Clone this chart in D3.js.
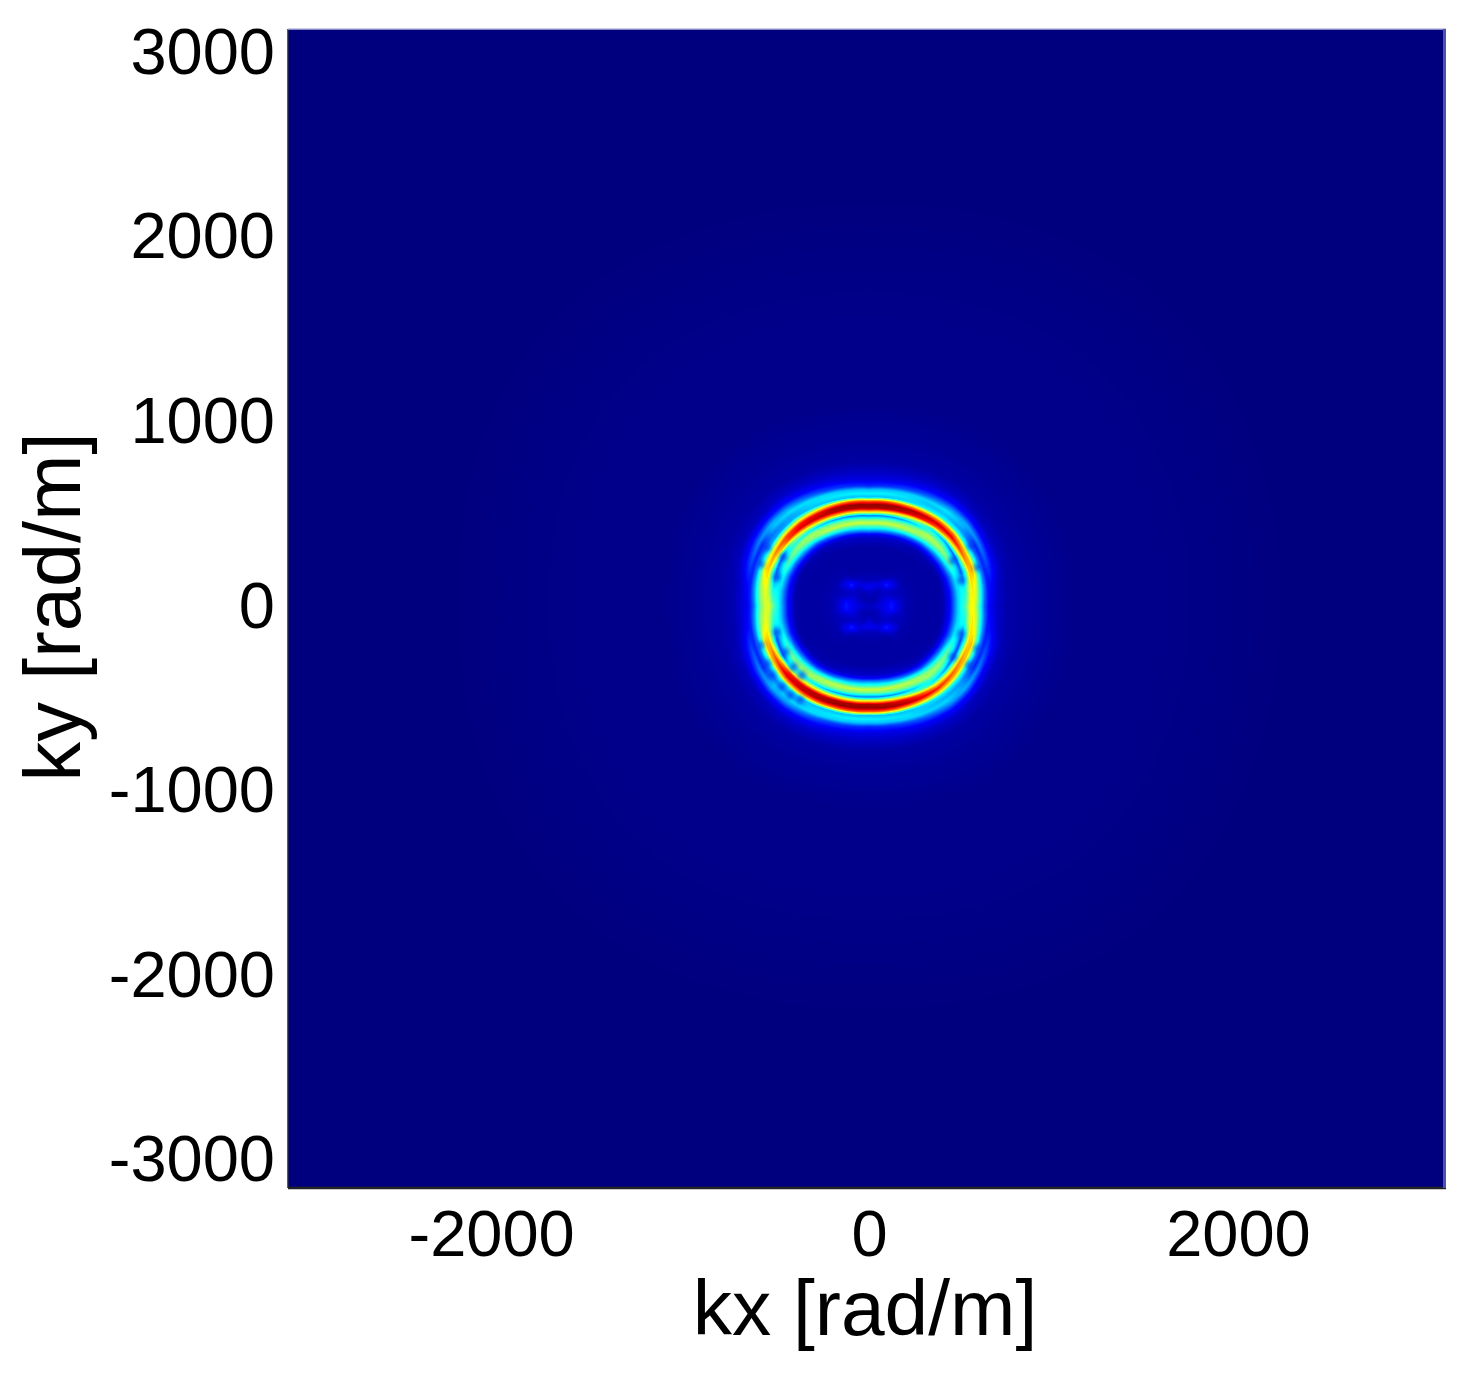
<!DOCTYPE html>
<html>
<head>
<meta charset="utf-8">
<script src="https://d3js.org/d3.v7.min.js"></script>
<style>
  body { margin: 0; background: #fff; }
  #wrap { position: relative; width: 1469px; height: 1373px; }
  canvas, svg { position: absolute; left: 0; top: 0; }
  text { font-family: "Liberation Sans", Arial, sans-serif; fill: #000; }
</style>
</head>
<body>
<div id="wrap"></div>
<script>
// Tick labels
const xTicks = [-2000, 0, 2000];
const yTicks = [-3000, -2000, -1000, 0, 1000, 2000, 3000];

// Intensity, in percent, along rays from the centre.
// One row per angle (degrees, counter-clockwise from +kx), one column per radius.
// The radii are relative to a bright ring of radius ringBase.
const radii = [0, 40, 80, 100, 120, 140, 170, 200, 260, 320, 370, 390, 410, 430, 450, 470, 490, 510, 530, 550, 570, 590, 610, 630, 650, 680, 720, 780];
const angles = d3.range(0, 360, 10);
const levels = [
  [6,7,9,11,13,10,6,4,3,3, 3,4,8,12,22,32,38,44,60,64,52,36,20,12,9,6,4,3],
  [6,7,9,10,12,9,6,4,3,3, 3,4,8,12,22,32,36,38,54,66,58,40,24,13,11,7,4,3],
  [6,6,8,9,8,6,5,4,3,3, 3,4,8,14,24,36,32,20,38,68,72,48,26,14,18,10,5,3],
  [6,5,7,7,6,5,5,4,3,3, 3,5,10,20,36,48,36,20,55,80,68,38,20,14,24,10,5,3],
  [6,5,6,6,6,8,9,4,3,3, 4,7,14,28,44,54,44,26,66,90,74,38,26,28,28,12,5,3],
  [6,4,5,6,9,14,8,4,3,3, 4,8,16,34,50,56,44,34,78,93,72,36,30,34,26,12,6,3],
  [6,4,5,6,8,10,4,3,3,3, 5,9,20,40,55,50,32,52,88,95,70,34,30,32,22,11,6,3],
  [6,4,5,7,9,6,4,3,3,3, 6,10,24,42,57,48,26,60,93,97,72,32,33,32,19,10,6,3],
  [6,4,6,9,9,5,4,3,3,3, 6,11,27,42,58,46,24,64,96,98,76,30,35,30,16,9,6,3],
  [6,4,7,10,8,5,4,3,3,3, 6,11,28,42,58,46,23,65,96,98,78,30,35,30,15,9,6,3],
  [6,4,6,9,9,5,4,3,3,3, 6,11,27,42,58,46,24,66,96,98,76,30,35,30,16,9,6,3],
  [6,4,5,7,9,6,4,3,3,3, 6,10,24,42,57,48,26,68,95,96,70,30,34,32,18,10,6,3],
  [6,4,5,6,8,10,4,3,3,3, 5,9,20,40,56,50,30,68,94,90,62,30,32,33,22,11,6,3],
  [6,4,5,6,9,14,8,4,3,3, 4,8,16,34,50,54,36,64,92,86,56,28,28,33,26,12,6,3],
  [6,5,6,6,6,8,9,4,3,3, 4,7,14,28,44,52,40,50,82,82,54,26,24,30,28,12,5,3],
  [6,5,7,7,6,5,5,4,3,3, 3,5,10,20,36,46,36,20,62,76,58,30,20,14,24,12,5,3],
  [6,6,8,9,8,6,5,4,3,3, 3,4,8,14,26,38,30,20,44,68,66,42,24,14,18,10,5,3],
  [6,7,9,10,12,9,6,4,3,3, 3,4,8,12,22,32,36,36,52,62,56,42,26,14,11,7,4,3],
  [6,7,9,11,13,10,6,4,3,3, 3,4,8,12,22,32,40,48,60,58,50,38,22,13,9,7,4,3],
  [6,7,9,10,12,9,6,4,3,3, 3,4,8,12,22,32,36,38,54,62,56,42,26,14,11,7,4,3],
  [6,6,8,9,8,6,5,4,3,3, 3,4,8,14,26,38,30,18,44,70,70,44,24,14,18,10,5,3],
  [6,5,7,7,6,5,5,4,3,3, 3,5,10,20,36,46,34,18,62,82,68,36,20,14,24,12,5,3],
  [6,5,6,6,6,8,9,4,3,3, 4,7,14,28,44,52,40,44,84,92,70,34,24,30,28,12,5,3],
  [6,4,5,6,9,14,8,4,3,3, 4,8,16,34,50,54,36,60,92,94,70,32,28,33,26,12,6,3],
  [6,4,5,6,8,10,4,3,3,3, 5,9,20,40,56,50,30,64,94,96,74,30,32,33,22,11,6,3],
  [6,4,5,7,9,6,4,3,3,3, 6,10,24,42,57,48,26,62,95,98,76,30,34,32,18,10,6,3],
  [6,4,6,9,9,5,4,3,3,3, 6,11,27,42,58,46,24,62,96,98,78,30,35,30,16,9,6,3],
  [6,4,7,10,8,5,4,3,3,3, 6,11,28,42,58,46,23,62,96,98,78,30,35,30,15,9,6,3],
  [6,4,6,9,9,5,4,3,3,3, 6,11,27,42,58,46,24,62,94,98,76,30,34,30,16,9,6,3],
  [6,4,5,7,9,6,4,3,3,3, 6,10,24,42,57,48,26,58,90,96,70,30,33,32,19,10,6,3],
  [6,4,5,6,8,10,4,3,3,3, 5,9,20,40,55,50,32,46,80,92,66,32,30,32,22,11,6,3],
  [6,4,5,6,9,14,8,4,3,3, 4,8,16,34,50,54,42,34,66,86,66,34,28,32,26,12,6,3],
  [6,5,6,6,6,8,9,4,3,3, 4,7,14,28,44,52,42,26,58,80,68,36,26,26,28,12,5,3],
  [6,5,7,7,6,5,5,4,3,3, 3,5,10,20,36,46,36,18,48,74,68,40,20,14,24,10,5,3],
  [6,6,8,9,8,6,5,4,3,3, 3,4,8,14,24,36,32,18,38,66,70,48,26,14,18,10,5,3],
  [6,7,9,10,12,9,6,4,3,3, 3,4,8,12,22,32,36,38,54,66,58,40,24,13,11,7,4,3]
];
// Radius of the red band at each angle: the ring is slightly squared, not circular
const ringRadius = [554,558,562,568,572,570,562,553,546,540,546,553,562,572,575,572,566,558,553,556,562,568,572,570,562,552,546,542,546,553,562,570,570,565,560,556];
const ringBase = 540;
// Far field is the same in every direction
const farRadii = [900, 1100, 1500, 2200, 4500];
const farLevels = [2, 1, 1, 0, 0];
// Small dark dots in the gaps between the bands
const spotKx = [-589,-499,-553,-463,-589,-499,-454,-553,500,590,455,554,500,590,455,545,-409,-364,-427,-373,-472,-526];
const spotKy = [229,157,319,265,-212,-140,-248,-311,139,211,247,328,-149,-230,-275,-320,-329,-374,-482,-509,-437,-374];

const width = 1469, height = 1373;
const plot = { left: 288, right: 1446, top: 29, bottom: 1188 };

const wrap = d3.select("#wrap");

const x = d3.scaleLinear().domain([-3150, 3128]).range([plot.left, plot.right]);
const y = d3.scaleLinear().domain([-3153, 3128]).range([plot.bottom, plot.top]);

// jet colormap
const color = d3.scaleLinear()
  .domain([0, 11, 36, 63, 88, 100])
  .range(["#00007f", "#0000ff", "#00ffff", "#ffff00", "#ff0000", "#7f0000"])
  .clamp(true);

const allRadii = radii.concat(farRadii);

function levelAt(angleIdx, radIdx) {
  if (radIdx < radii.length) return levels[angleIdx][radIdx];
  return farLevels[radIdx - radii.length];
}

function sample(kx, ky) {
  let a = Math.atan2(ky, kx) * 180 / Math.PI;
  if (a < 0) a += 360;
  const ai = Math.floor(a / 10) % angles.length;
  const aj = (ai + 1) % angles.length;
  const at = (a - angles[ai]) / 10;
  const ring = ringRadius[ai] * (1 - at) + ringRadius[aj] * at;
  const r = Math.min(Math.hypot(kx, ky) * ringBase / ring, 4499);
  const ri = Math.max(d3.bisectRight(allRadii, r) - 1, 0);
  const rj = ri + 1;
  const rt = (r - allRadii[ri]) / (allRadii[rj] - allRadii[ri]);
  const a0 = levelAt(ai, ri) * (1 - rt) + levelAt(ai, rj) * rt;
  const a1 = levelAt(aj, ri) * (1 - rt) + levelAt(aj, rj) * rt;
  return a0 * (1 - at) + a1 * at;
}

// Heatmap
const w = plot.right - plot.left, h = plot.bottom - plot.top;
const canvas = wrap.append("canvas")
  .attr("width", w).attr("height", h)
  .style("left", plot.left + "px").style("top", plot.top + "px");
const ctx = canvas.node().getContext("2d");
const img = ctx.createImageData(w, h);
for (let j = 0; j < h; j++) {
  for (let i = 0; i < w; i++) {
    const c = d3.rgb(color(sample(x.invert(plot.left + i + 0.5), y.invert(plot.top + j + 0.5))));
    const p = (j * w + i) * 4;
    img.data[p] = c.r; img.data[p + 1] = c.g; img.data[p + 2] = c.b; img.data[p + 3] = 255;
  }
}
ctx.putImageData(img, 0, 0);

// SVG setup
const svg = wrap.append("svg").attr("width", width).attr("height", height);

svg.append("defs").append("filter").attr("id", "soft")
  .append("feGaussianBlur").attr("stdDeviation", 2);

// Dark dots
svg.append("g").attr("filter", "url(#soft)")
  .selectAll("circle")
  .data(spotKx)
  .enter()
  .append("circle")
  .attr("cx", d => x(d))
  .attr("cy", (d, i) => y(spotKy[i]))
  .attr("r", 4)
  .attr("fill", "#0038f0")
  .attr("opacity", 0.7);

// Axes
const xAxis = d3.axisBottom(x).tickValues(xTicks).tickSize(0).tickPadding(0).tickFormat(d => String(d));
const yAxis = d3.axisLeft(y).tickValues(yTicks).tickSize(0).tickPadding(13).tickFormat(d => String(d));

const gx = svg.append("g").attr("transform", `translate(0, ${plot.bottom})`).call(xAxis);
gx.select(".domain").remove();
gx.selectAll("text").attr("y", 22).attr("dy", "0.71em").attr("dx", d => d < 0 ? -9 : 0);
const gy = svg.append("g").attr("transform", `translate(${plot.left}, 0)`).call(yAxis);
gy.select(".domain").remove();
svg.selectAll(".tick text").style("font-size", "65px").style("font-family", '"Liberation Sans", Arial, sans-serif').attr("fill", "#000");

// Frame
svg.append("line").attr("x1", plot.left).attr("x2", plot.left).attr("y1", plot.top).attr("y2", plot.bottom)
  .attr("stroke", "#222244").attr("stroke-width", 1.5);
svg.append("line").attr("x1", plot.left).attr("x2", plot.right).attr("y1", plot.bottom).attr("y2", plot.bottom)
  .attr("stroke", "#222222").attr("stroke-width", 2.5);
svg.append("line").attr("x1", plot.left).attr("x2", plot.right).attr("y1", plot.top).attr("y2", plot.top)
  .attr("stroke", "#b8b8dc").attr("stroke-width", 1.5);
svg.append("line").attr("x1", plot.right - 1.5).attr("x2", plot.right - 1.5).attr("y1", plot.top).attr("y2", plot.bottom)
  .attr("stroke", "#5050b0").attr("stroke-width", 3);

// Axis labels
svg.append("text").attr("x", 865).attr("y", 1335).attr("text-anchor", "middle")
  .style("font-size", "78.5px").text("kx [rad/m]");
svg.append("text").attr("transform", "translate(80, 607) rotate(-90)").attr("text-anchor", "middle")
  .style("font-size", "79.5px").text("ky [rad/m]");
</script>
</body>
</html>
